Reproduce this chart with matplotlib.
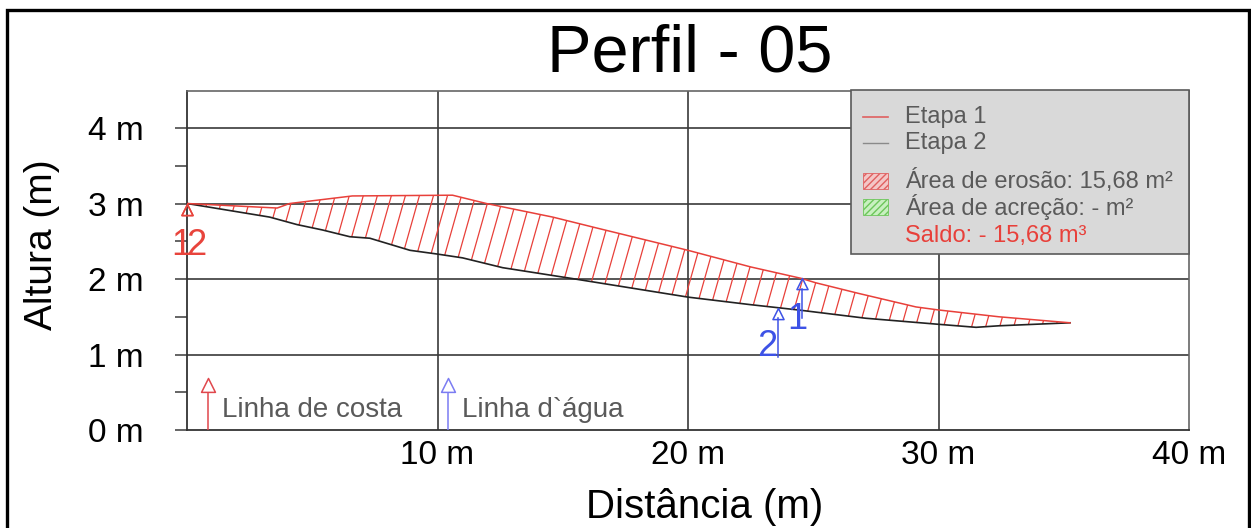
import numpy as np
import matplotlib
matplotlib.use("Agg")
import matplotlib.pyplot as plt
from matplotlib.patches import Polygon, Rectangle
from matplotlib.collections import LineCollection
from matplotlib.markers import MarkerStyle
from matplotlib.path import Path

plt.rcParams['font.family'] = ['Liberation Sans', 'DejaVu Sans']

# ---- data ----
title = "Perfil - 05"
x_etapa1 = [0.0, 3.6, 4.1, 6.6, 10.6, 11.95, 14.6, 16.3, 20.0, 22.5, 24.5, 25.1, 26.8, 29.1, 30.0, 32.4, 35.25]
y_etapa1 = [3.0, 2.94, 3.0, 3.10, 3.11, 3.0, 2.82, 2.68, 2.38, 2.16, 2.01, 1.95, 1.81, 1.63, 1.59, 1.50, 1.42]
x_etapa2 = [0.0, 3.3, 4.4, 5.4, 6.5, 7.3, 8.9, 10.0, 11.0, 12.6, 15.3, 20.0, 22.5, 24.4, 27.1, 30.0, 31.5, 32.4, 35.25]
y_etapa2 = [3.0, 2.82, 2.72, 2.65, 2.56, 2.54, 2.38, 2.33, 2.28, 2.15, 2.01, 1.76, 1.66, 1.59, 1.48, 1.40, 1.36, 1.38, 1.42]

x_ticks = [10, 20, 30, 40]
x_tick_labels = ["10 m", "20 m", "30 m", "40 m"]
y_ticks = [0, 1, 2, 3, 4]
y_tick_labels = ["0 m", "1 m", "2 m", "3 m", "4 m"]

# reference lines (shore line / water line)
ref_names = ["Linha de costa", "Linha d`água"]
ref_x = [0.84, 10.42]
ref_tip = [0.69, 0.69]
ref_colors = ["#e0474c", "#7b7cf2"]

# survey point markers
pt_labels = ["1", "2", "1", "2"]
pt_x = [0.0, 0.0, 24.55, 23.6]
pt_tip = [3.0, 3.0, 2.01, 1.62]
pt_tail = [3.0, 3.0, 1.48, 0.97]
pt_colors = ["#e8443c", "#e8443c", "#3d52e6", "#3d52e6"]

legend_labels = ["Etapa 1", "Etapa 2", "Área de erosão: 15,68 m²", "Área de acreção: - m²"]
saldo_label = "Saldo: - 15,68 m³"

# ---- figure ----
W, H = 1251, 528
fig = plt.figure(figsize=(W / 100, H / 100), dpi=100)
L, R, T, B = 187, 1189, 91, 430
ax = fig.add_axes([L / W, 1 - B / H, (R - L) / W, (B - T) / H])
ax.set_xlim(0, 40)
ax.set_ylim(0, (B - T) / 75.5)

# outer frame
fig.patches.append(Rectangle((7 / W, -0.02), (1249 - 7) / W, 1 - 10 / H + 0.02,
                             transform=fig.transFigure, fill=False, lw=2.4,
                             edgecolor='black', zorder=0))

# grid
for xv in x_ticks[:-1]:
    ax.axvline(xv, color='#3a3a3a', lw=1.2, zorder=1)
for yv in y_ticks[1:]:
    ax.axhline(yv, color='#3a3a3a', lw=1.2, zorder=1)

# erosion area with custom steep hatch
poly_xy = list(zip(x_etapa1, y_etapa1)) + list(zip(x_etapa2[::-1], y_etapa2[::-1]))
poly = Polygon(poly_xy, closed=True, facecolor='none', edgecolor='none')
ax.add_patch(poly)
slope_dx = 0.85   # metres in x per metre in y
starts = np.arange(-4, 42, 0.56)
segs = [[(s, 0.0), (s + slope_dx * 4.5, 4.5)] for s in starts]
lc = LineCollection(segs, colors='#e8403a', linewidths=0.9, zorder=2)
ax.add_collection(lc)
lc.set_clip_path(poly)

ax.plot(x_etapa2, y_etapa2, color='#222222', lw=1.2, zorder=3)
ax.plot(x_etapa1, y_etapa1, color='#e8403a', lw=1.1, zorder=3)

tri = MarkerStyle(Path([(0, 0), (-0.5, -1.0), (0.5, -1.0), (0, 0)],
                       [Path.MOVETO, Path.LINETO, Path.LINETO, Path.CLOSEPOLY]))

# reference lines
for name, xv, tip, c in zip(ref_names, ref_x, ref_tip, ref_colors):
    ax.plot([xv, xv], [0, tip - 0.18], color=c, lw=1.1, zorder=4)
    ax.plot([xv], [tip], marker=tri, markersize=20, markerfacecolor='white',
            markeredgecolor=c, markeredgewidth=1.1, zorder=5)
    ax.text(xv + 0.56, 0.27, name, color='#5a5a5a', fontsize=20, va='center', ha='left', zorder=5)

# survey points
label_off = {0: (-0.22, 2.45), 1: (0.38, 2.45), 2: (24.35, 1.47), 3: (23.15, 1.11)}
for i, (lab, xv, tip, tail, c) in enumerate(zip(pt_labels, pt_x, pt_tip, pt_tail, pt_colors)):
    if tail < tip - 0.15:
        ax.plot([xv, xv], [tail, tip - 0.14], color=c, lw=1.1, zorder=4)
    ax.plot([xv], [tip], marker=tri, markersize=16, markerfacecolor='none',
            markeredgecolor=c, markeredgewidth=1.1, zorder=5, clip_on=False)
    ox, oy = label_off[i]
    ax.text(ox, oy, lab, color=c, fontsize=26, ha='center', va='center', zorder=6)

# axes styling
ax.set_xticks(x_ticks)
ax.set_xticklabels(x_tick_labels, fontsize=24)
ax.set_yticks(y_ticks)
ax.set_yticklabels(y_tick_labels, fontsize=24)
ax.set_yticks([0.5, 1.5, 2.5, 3.5], minor=True)
ax.tick_params(axis='x', length=0, pad=7)
ax.tick_params(axis='y', which='both', length=9, width=1.1, color='#3a3a3a', pad=22)
for s in ['left', 'bottom']:
    ax.spines[s].set_color('#333333')
    ax.spines[s].set_linewidth(1.3)
for s in ['top', 'right']:
    ax.spines[s].set_color('#666666')
    ax.spines[s].set_linewidth(1.2)

ax.set_xlabel("Distância (m)", fontsize=29)
ax.xaxis.set_label_coords((705 - L) / (R - L), (B - 507) / (B - T))
ax.set_ylabel("Altura (m)", fontsize=28)
ax.yaxis.set_label_coords((42 - L) / (R - L), (B - 245) / (B - T))
ax.xaxis.label.set_va('center')
ax.yaxis.label.set_va('center')
fig.text(690 / W, 1 - 55 / H, title, fontsize=48, ha='center', va='center')

# legend (manual box)
lx0, ly0, lx1, ly1 = 851, 90, 1189, 254
def fx(px):
    return (px - L) / (R - L)
def fy(py):
    return (B - py) / (B - T)
box = Rectangle((fx(lx0), fy(ly1)), fx(lx1) - fx(lx0), fy(ly0) - fy(ly1),
                transform=ax.transAxes, facecolor='#d9d9d9', edgecolor='#5a5a5a',
                lw=1.2, zorder=10, clip_on=False)
ax.add_patch(box)
rows = [117, 143, 181, 207, 236]
ax.plot([fx(863), fx(888)], [fy(rows[0])] * 2, transform=ax.transAxes, color='#e06060', lw=1.2, zorder=11, clip_on=False)
ax.plot([fx(863), fx(888)], [fy(rows[1])] * 2, transform=ax.transAxes, color='#8a8a8a', lw=1.0, zorder=11, clip_on=False)
for r, fc, ec in [(rows[2], '#f4c6c6', '#e06060'), (rows[3], '#c8f0c0', '#6cc65a')]:
    ax.add_patch(Rectangle((fx(863), fy(r + 8)), fx(888) - fx(863), fy(r - 8) - fy(r + 8),
                           transform=ax.transAxes, facecolor=fc, edgecolor=ec, hatch='/////',
                           lw=0.6, zorder=11, clip_on=False))
for r, lab in zip(rows, legend_labels):
    ax.text(fx(905), fy(r), lab, transform=ax.transAxes, fontsize=17, color='#5a5a5a',
            va='center', ha='left', zorder=12)
ax.text(fx(905), fy(rows[4]), saldo_label, transform=ax.transAxes, fontsize=17,
        color='#e8403a', va='center', ha='left', zorder=12)

fig.savefig("out.png", dpi=100)
